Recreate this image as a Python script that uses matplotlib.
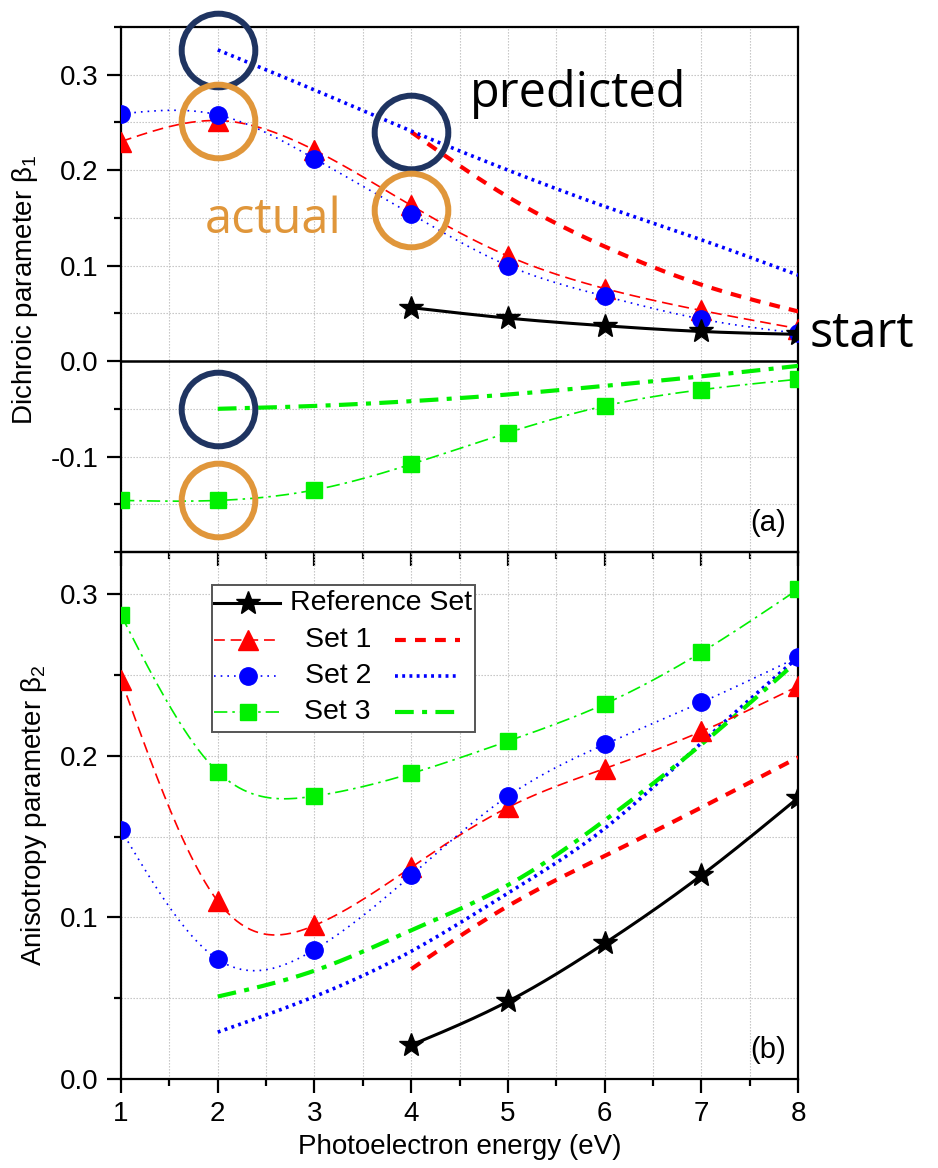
import numpy as np
import matplotlib
matplotlib.use("Agg")
import matplotlib.pyplot as plt
from matplotlib.patches import Rectangle

plt.rcParams['font.family'] = ['Liberation Sans', 'DejaVu Sans']
plt.rcParams['mathtext.fontset'] = 'custom'
plt.rcParams['mathtext.rm'] = 'Liberation Sans'
plt.rcParams['mathtext.it'] = 'Liberation Sans:italic'

# -----------------------------
# Data
# -----------------------------
energy = [1, 2, 3, 4, 5, 6, 7, 8]
energy_ref = [4, 5, 6, 7, 8]
energy_pred2 = [2, 3, 4, 5, 6, 7, 8]   # Set 2 / Set 3 predicted
energy_pred1 = [4, 5, 6, 7, 8]         # Set 1 predicted

# (a) dichroic parameter beta_1
b1_ref = [0.056, 0.045, 0.037, 0.031, 0.028]
b1_set1 = [0.230, 0.252, 0.221, 0.163, 0.110, 0.076, 0.053, 0.034]
b1_set2 = [0.259, 0.258, 0.212, 0.154, 0.100, 0.068, 0.044, 0.029]
b1_set3 = [-0.146, -0.146, -0.135, -0.108, -0.075, -0.047, -0.030, -0.019]
b1_set1_pred = [0.240, 0.172, 0.120, 0.080, 0.052]
b1_set2_pred = [0.326, 0.284, 0.241, 0.200, 0.162, 0.127, 0.090]
b1_set3_pred = [-0.050, -0.047, -0.042, -0.035, -0.026, -0.016, -0.005]

# (b) anisotropy parameter beta_2
b2_ref = [0.021, 0.048, 0.084, 0.126, 0.174]
b2_set1 = [0.247, 0.110, 0.095, 0.131, 0.168, 0.192, 0.215, 0.243]
b2_set2 = [0.154, 0.074, 0.080, 0.126, 0.175, 0.207, 0.233, 0.261]
b2_set3 = [0.287, 0.190, 0.175, 0.189, 0.209, 0.232, 0.264, 0.303]
b2_set1_pred = [0.068, 0.107, 0.138, 0.168, 0.199]
b2_set2_pred = [0.029, 0.051, 0.079, 0.115, 0.155, 0.208, 0.261]
b2_set3_pred = [0.051, 0.067, 0.092, 0.120, 0.160, 0.207, 0.259]

RED, BLUE, GREEN = '#ff0000', '#0000ff', '#00f000'
NAVY, ORANGE = '#1f3461', '#e0963a'


def spline(x, y, num=300):
    # natural cubic spline through the points, used only to draw the connecting curve
    x = np.asarray(x, float)
    y = np.asarray(y, float)
    n = len(x)
    h = np.diff(x)
    A = np.zeros((n, n))
    r = np.zeros(n)
    A[0, 0] = A[-1, -1] = 1
    for i in range(1, n - 1):
        A[i, i - 1] = h[i - 1]
        A[i, i] = 2 * (h[i - 1] + h[i])
        A[i, i + 1] = h[i]
        r[i] = 6 * ((y[i + 1] - y[i]) / h[i] - (y[i] - y[i - 1]) / h[i - 1])
    M = np.linalg.solve(A, r)
    xs = np.linspace(x[0], x[-1], num)
    idx = np.clip(np.searchsorted(x, xs) - 1, 0, n - 2)
    x0, x1 = x[idx], x[idx + 1]
    hh = x1 - x0
    a = (x1 - xs) / hh
    b = (xs - x0) / hh
    ys = a * y[idx] + b * y[idx + 1] + ((a ** 3 - a) * M[idx] + (b ** 3 - b) * M[idx + 1]) * hh ** 2 / 6
    return xs, ys


# line / marker styles
ref_style = dict(color='black', lw=2.2, ls='-')
ref_mk = dict(marker='*', ms=18, color='black', ls='none')
act_styles = [
    (dict(color=RED, lw=1.2, ls=(0, (6.5, 3.5))), dict(marker='^', ms=14, color=RED, ls='none')),
    (dict(color=BLUE, lw=1.2, ls=(0, (1, 3))), dict(marker='o', ms=12.5, color=BLUE, ls='none')),
    (dict(color=GREEN, lw=1.2, ls=(0, (8, 3, 1.5, 3))), dict(marker='s', ms=11, color=GREEN, ls='none')),
]
pred_styles = [
    dict(color=RED, lw=3.0, ls=(0, (2.6, 2.2))),
    dict(color=BLUE, lw=2.6, ls=(0, (0.8, 1.2))),
    dict(color=GREEN, lw=3.0, ls=(0, (4.5, 2, 1.2, 2))),
]


def draw_panel(ax, ref, acts, preds):
    xs, ys = spline(energy_ref, ref)
    ax.plot(xs, ys, zorder=6, **ref_style)
    ax.plot(energy_ref, ref, zorder=7, **ref_mk)
    for (lst, mst), vals in zip(act_styles, acts):
        xs, ys = spline(energy, vals)
        ax.plot(xs, ys, zorder=4, **lst)
        ax.plot(energy, vals, zorder=5, **mst)
    for st, (ex, vals) in zip(pred_styles, preds):
        xs, ys = spline(ex, vals)
        ax.plot(xs, ys, zorder=3, **st)


def style_axes(ax, ylim, yticks):
    ax.set_xlim(1, 8)
    ax.set_ylim(*ylim)
    ax.set_xticks(range(1, 9))
    ax.set_xticks(np.arange(1.5, 8, 1.0), minor=True)
    ax.set_yticks(yticks)
    ax.set_yticks(np.arange(ylim[0], ylim[1] + 1e-9, 0.05), minor=True)
    ax.grid(True, which='both', color='#bdbdbd', lw=0.8, ls=(0, (1.2, 1.5)))
    ax.set_axisbelow(True)
    for sp in ax.spines.values():
        sp.set_linewidth(1.6)
    ax.tick_params(which='both', direction='out', width=1.6, labelsize=20,
                   top=False, right=False)
    ax.tick_params(which='major', length=10, pad=6)
    ax.tick_params(which='minor', length=5)


fig = plt.figure(figsize=(9.38, 11.68), dpi=100)
ax_a = fig.add_axes([0.129, 0.5274, 0.722, 0.4495])
ax_b = fig.add_axes([0.129, 0.0762, 0.722, 0.4512])
ax_b.patch.set_visible(False)

# panel (a)
draw_panel(ax_a, b1_ref, [b1_set1, b1_set2, b1_set3],
           [(energy_pred1, b1_set1_pred), (energy_pred2, b1_set2_pred), (energy_pred2, b1_set3_pred)])
ax_a.axhline(0, color='black', lw=1.8, zorder=2)
style_axes(ax_a, (-0.2, 0.35), [-0.1, 0.0, 0.1, 0.2, 0.3])
ax_a.set_yticklabels(['-0.1', '0.0', '0.1', '0.2', '0.3'])
ax_a.tick_params(axis='x', labelbottom=False)
ax_a.set_ylabel(r'Dichroic parameter β$_\mathrm{1}$', fontsize=20, labelpad=8)
ax_a.text(0.955, 0.055, '(a)', transform=ax_a.transAxes, fontsize=21, ha='center', va='center')

# panel (b)
draw_panel(ax_b, b2_ref, [b2_set1, b2_set2, b2_set3],
           [(energy_pred1, b2_set1_pred), (energy_pred2, b2_set2_pred), (energy_pred2, b2_set3_pred)])
style_axes(ax_b, (0.0, 0.326), [0.0, 0.1, 0.2, 0.3])
ax_b.set_yticklabels(['0.0', '0.1', '0.2', '0.3'])
ax_b.set_xlabel('Photoelectron energy (eV)', fontsize=20, labelpad=5)
ax_b.set_ylabel(r'Anisotropy parameter β$_\mathrm{2}$', fontsize=20, labelpad=8)
ax_b.text(0.955, 0.055, '(b)', transform=ax_b.transAxes, fontsize=21, ha='center', va='center')

# legend, drawn by hand to get the two-handle layout
T = ax_b.transAxes
ax_b.add_patch(Rectangle((0.134, 0.659), 0.389, 0.278, transform=T, facecolor='white',
                         edgecolor='#555555', lw=1.4, zorder=10))
rows = [0.903, 0.833, 0.765, 0.696]
ax_b.plot([0.137, 0.235], [rows[0]] * 2, transform=T, zorder=11, **ref_style)
ax_b.plot([0.188], [rows[0]], transform=T, zorder=12, **ref_mk)
ax_b.text(0.250, rows[0], 'Reference Set', transform=T, fontsize=20.5, va='center', zorder=12)
for i, ((lst, mst), pst) in enumerate(zip(act_styles, pred_styles)):
    y = rows[i + 1]
    ax_b.plot([0.137, 0.235], [y, y], transform=T, zorder=11, **lst)
    ax_b.plot([0.188], [y], transform=T, zorder=12, **mst)
    ax_b.text(0.320, y, f'Set {i + 1}', transform=T, fontsize=20.5, ha='center', va='center', zorder=12)
    ax_b.plot([0.405, 0.501], [y, y], transform=T, zorder=11, **pst)

# annotation circles and words
circ = dict(marker='o', ms=53, mfc='none', mew=4.3, ls='none', clip_on=False, zorder=20)
ax_a.plot([energy_pred2[0], energy_pred1[0], energy_pred2[0]],
          [b1_set2_pred[0], b1_set1_pred[0], b1_set3_pred[0]], mec=NAVY, **circ)
ax_a.plot([energy[1], energy[3], energy[1]],
          [b1_set1[1], (b1_set1[3] + b1_set2[3]) / 2, b1_set3[1]], mec=ORANGE, **circ)
word = dict(family=['Open Sans', 'DejaVu Sans'], fontsize=35, va='baseline', clip_on=False, zorder=21)
ax_a.text(4.61, 0.266, 'predicted', color='black', **word)
ax_a.text(1.87, 0.134, 'actual', color=ORANGE, **word)
ax_a.text(8.12, 0.0143, 'start', color='black', **word)

fig.savefig('out.png', dpi=100)
